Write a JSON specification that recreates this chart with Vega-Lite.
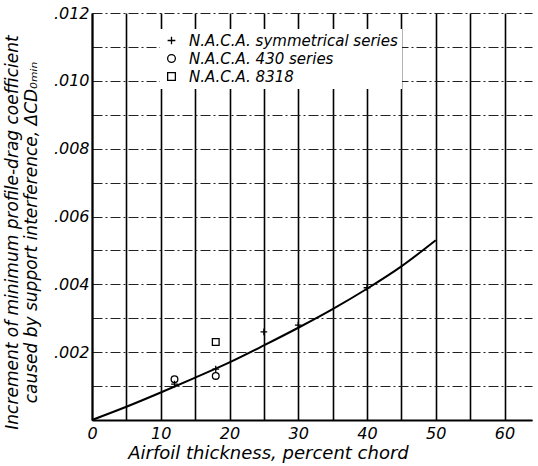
{
  "$schema": "https://vega.github.io/schema/vega-lite/v6.json",
  "width": 440,
  "height": 407,
  "autosize": {"type": "none"},
  "padding": {"left": 92, "top": 13, "right": 6, "bottom": 46},
  "background": "white",
  "config": {
    "view": {"stroke": null},
    "font": "DejaVu Sans",
    "axis": {"labelFont": "DejaVu Sans", "titleFont": "DejaVu Sans", "labelFontStyle": "italic", "titleFontStyle": "italic", "labelColor": "black", "titleColor": "black", "titleFontWeight": "normal", "labelFontSize": 16, "titleFontSize": 17, "ticks": false, "domainColor": "black", "domainWidth": 2},
    "legend": {"labelFont": "DejaVu Sans", "labelFontStyle": "italic", "labelFontSize": 15, "labelColor": "black", "labelLimit": 0}
  },
  "datasets": {
    "curve": [
      {"t": 0, "d": 0},
      {"t": 5, "d": 0.00039},
      {"t": 10, "d": 0.00081},
      {"t": 15, "d": 0.00125},
      {"t": 20, "d": 0.0017},
      {"t": 25, "d": 0.0022},
      {"t": 30, "d": 0.00272},
      {"t": 35, "d": 0.00327},
      {"t": 40, "d": 0.00387},
      {"t": 45, "d": 0.00453},
      {"t": 50, "d": 0.0053}
    ],
    "pts": [
      {"t": 12, "d": 0.00106, "s": "N.A.C.A. symmetrical series"},
      {"t": 18, "d": 0.0015, "s": "N.A.C.A. symmetrical series"},
      {"t": 25, "d": 0.0026, "s": "N.A.C.A. symmetrical series"},
      {"t": 30, "d": 0.0028, "s": "N.A.C.A. symmetrical series"},
      {"t": 40, "d": 0.0039, "s": "N.A.C.A. symmetrical series"},
      {"t": 12, "d": 0.0012, "s": "N.A.C.A. 430 series"},
      {"t": 18, "d": 0.0013, "s": "N.A.C.A. 430 series"},
      {"t": 18, "d": 0.0023, "s": "N.A.C.A. 8318"}
    ]
  },
  "encoding": {
    "x": {"field": "t", "type": "quantitative", "scale": {"domain": [0, 64], "nice": false, "zero": false},
      "axis": {"values": [0,5,10,15,20,25,30,35,40,45,50,55,60], "labelExpr": "datum.value % 10 == 0 ? datum.value : ''", "grid": true, "gridColor": "black", "gridWidth": 1.6, "gridOpacity": 1, "labelPadding": 5, "labelFlush": false, "title": "Airfoil thickness, percent chord", "titlePadding": 3, "titleFontSize": 18, "titleX": 176}},
    "y": {"field": "d", "type": "quantitative", "scale": {"domain": [0, 0.012], "nice": false},
      "axis": {"values": [0,0.001,0.002,0.003,0.004,0.005,0.006,0.007,0.008,0.009,0.010,0.011,0.012], "labelExpr": "(datum.value > 0 && round(datum.value*1000) % 2 == 0) ? replace(format(datum.value, '.3f'), '0.', '.') : ''", "grid": true, "gridColor": "#222", "gridWidth": 1, "gridOpacity": 1, "gridDash": [10, 3, 2, 3], "labelPadding": 3, "labelFlush": false, "title": ["Increment of minimum profile-drag coefficient", "caused by support interference, ΔCD₀ₘᵢₙ"], "titlePadding": 13, "titleY": 219, "titleLineHeight": 19}}
  },
  "layer": [
    {
      "data": {"values": [{"d": 0.012}]},
      "mark": {"type": "rule", "color": "black", "strokeWidth": 2},
      "encoding": {"y": {"field": "d", "type": "quantitative"}, "x": {"datum": 0}, "x2": {"datum": 64}}
    },
    {
      "data": {"name": "curve"},
      "mark": {"type": "line", "color": "black", "strokeWidth": 2, "interpolate": "monotone"}
    },
    {
      "data": {"name": "pts"},
      "mark": {"type": "point", "filled": false, "color": "black", "strokeWidth": 1.3, "size": 45, "opacity": 1},
      "encoding": {
        "shape": {"field": "s", "type": "nominal",
          "scale": {"domain": ["N.A.C.A. symmetrical series", "N.A.C.A. 430 series", "N.A.C.A. 8318"], "range": ["M-1,0H1M0,-1V1", "circle", "square"]},
          "legend": {"title": null, "orient": "none", "legendX": 68, "legendY": 16, "fillColor": "white", "padding": 4, "rowPadding": 2, "symbolStrokeColor": "black", "symbolStrokeWidth": 1.3, "symbolSize": 60, "symbolFillColor": "transparent", "labelOffset": 10, "symbolOpacity": 1}
        }
      }
    }
  ]
}
